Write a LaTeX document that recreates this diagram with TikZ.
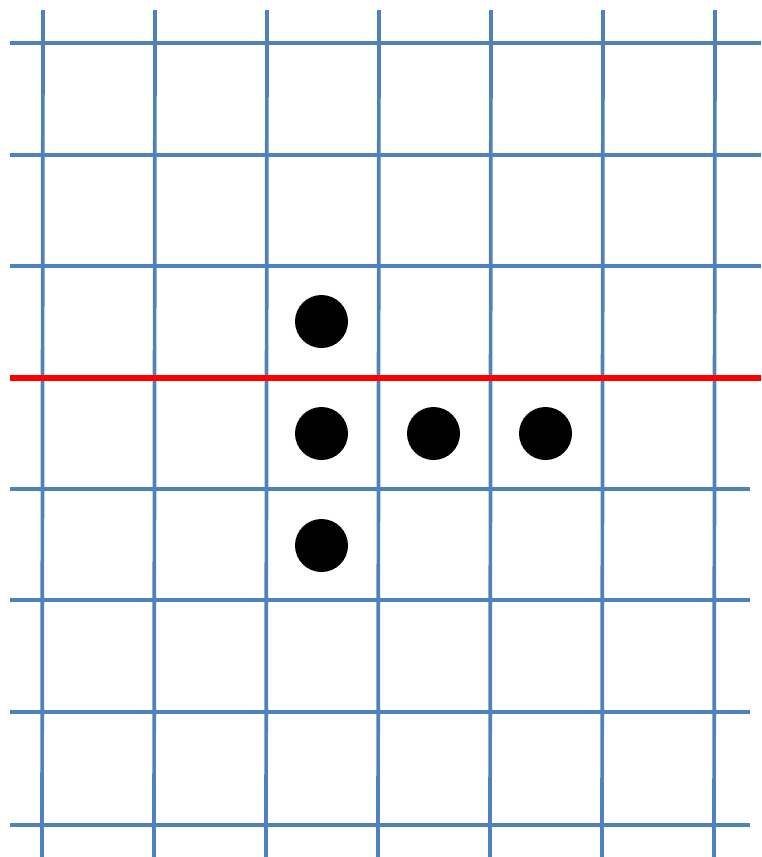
\documentclass[tikz,border=0pt]{standalone}
\begin{document}
\begin{tikzpicture}[x=1pt,y=-1pt,
  gridline/.style={draw={rgb,255:red,79;green,129;blue,189}, line width=3.7pt},
  redline/.style={draw={rgb,255:red,255;green,0;blue,0}, line width=5.2pt},
  dot/.style={circle, fill=black, minimum size=53pt, inner sep=0pt}]
\useasboundingbox (0,0) rectangle (761,857);
% vertical lines
\foreach \x in {43,155,267,379,491,603,715} {
  \draw[gridline] (\x,10) -- (\x-1,857);
}
% horizontal lines (upper, longer)
\foreach \y in {43,155,266} {
  \draw[gridline] (10,\y) -- (761,\y);
}
% horizontal lines (lower, shorter)
\foreach \y in {489,600,712,825} {
  \draw[gridline] (10,\y) -- (750,\y);
}
% red line
\draw[redline] (10,378) -- (761,378);
% dots
\node[dot] (d1) at (321.5,321.5) {};
\node[dot] (d2) at (321.5,433.5) {};
\node[dot] (d3) at (433.5,433.5) {};
\node[dot] (d4) at (545.5,433.5) {};
\node[dot] (d5) at (321.5,545.5) {};
\end{tikzpicture}
\end{document}
